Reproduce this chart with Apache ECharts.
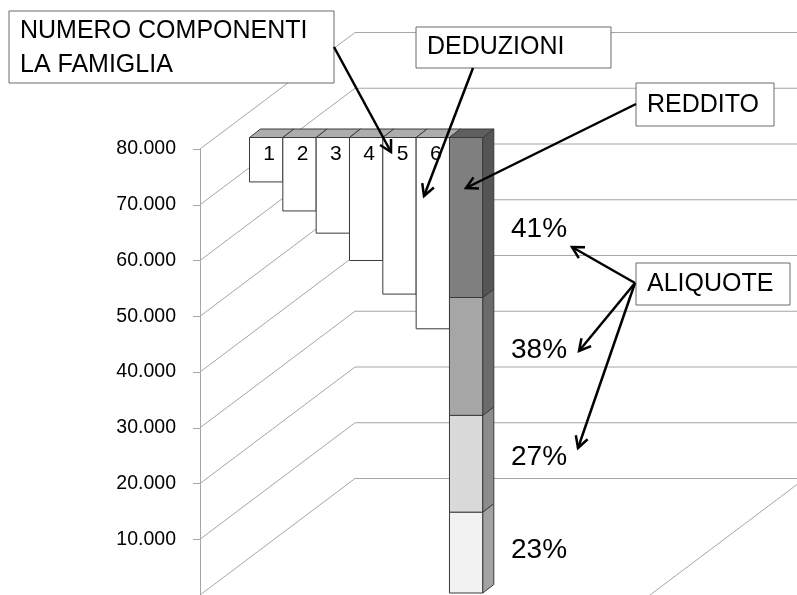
<!DOCTYPE html>
<html>
<head>
<meta charset="utf-8">
<script src="https://cdn.jsdelivr.net/npm/echarts@6/dist/echarts.min.js"></script>
<style>
  html, body { margin: 0; padding: 0; background: #fff; }
  #chart { width: 797px; height: 595px; }
</style>
</head>
<body>
<div id="chart"></div>
<script>
const FONT = "'Liberation Sans', Arial, sans-serif";

// valori
const famiglia = ['1', '2', '3', '4', '5', '6'];
const tetto = 80000;
const deduzioneFinoA = [72200, 67100, 63200, 58400, 52500, 46400];
const scaglioni = [0, 14200, 31200, 51900, 80000];
const aliquote = ['23%', '27%', '38%', '41%'];
const categorie = famiglia.concat(['Reddito']);
const tickAsse = [0, 10000, 20000, 30000, 40000, 50000, 60000, 70000, 80000];

// stile
const coloriFronte = ['#f2f2f2', '#d9d9d9', '#a6a6a6', '#7f7f7f'];
const coloriLato = ['#a3a3a3', '#8c8c8c', '#6b6b6b', '#555555'];
const coloreCima = '#5f5f5f';
const BORDO = '#3a3a3a';
const PROF = { dx: 11, dy: -8.5 };      // profondità delle barre
const PARETE = { dx: 155, dy: -116.5 }; // profondità della parete
const yAliquote = [550, 457.5, 350, 229];
const ZTOP = 100;

const formatta = (v) => String(v).replace(/\B(?=(\d{3})+(?!\d))/g, '.');

const freccia = (x1, y1, x2, y2) => {
  const a = Math.atan2(y2 - y1, x2 - x1);
  const L = 13;
  const s = 0.5;
  return {
    type: 'group',
    z: ZTOP,
    children: [
      { type: 'line', z: ZTOP + 1, shape: { x1, y1, x2, y2 }, style: { stroke: '#000', lineWidth: 2.5 } },
      {
        type: 'polyline',
        z: ZTOP + 1,
        shape: {
          points: [
            [x2 - L * Math.cos(a - s), y2 - L * Math.sin(a - s)],
            [x2, y2],
            [x2 - L * Math.cos(a + s), y2 - L * Math.sin(a + s)],
          ],
        },
        style: { stroke: '#000', lineWidth: 2.5, fill: null },
      },
    ],
  };
};

const riquadro = (x, y, w, h, testo, cy) => ({
  type: 'group',
  z: ZTOP,
  children: [
    {
      type: 'rect',
      z: ZTOP,
      shape: { x, y, width: w, height: h },
      style: { fill: '#fff', stroke: '#6b6b6b', lineWidth: 1 },
    },
    {
      type: 'text',
      z: ZTOP,
      x: x + 11,
      y: cy,
      style: { text: testo, font: '25px ' + FONT, fill: '#000', lineHeight: 33.5, verticalAlign: 'middle' },
    },
  ],
});

const renderGriglia = (params, api) => {
  const p = api.coord([0, api.value(1)]);
  const children = [
    {
      type: 'polyline',
      shape: { points: [[p[0], p[1]], [p[0] + PARETE.dx, p[1] + PARETE.dy], [820, p[1] + PARETE.dy]] },
      style: { stroke: '#a6a6a6', lineWidth: 1, fill: null },
    },
  ];
  if (api.value(1) === 0) {
    children.push({
      type: 'line',
      shape: { x1: p[0] + 605, y1: p[1] + PARETE.dy, x2: p[0] + 450, y2: p[1] },
      style: { stroke: '#a6a6a6', lineWidth: 1 },
    });
  }
  return { type: 'group', children };
};

const renderDeduzione = (params, api) => {
  const i = api.value(0);
  const top = api.coord([i, api.value(2)]);
  const bot = api.coord([i, api.value(1)]);
  const w = api.size([1, 0])[0];
  const xl = top[0] - w / 2;
  const xr = top[0] + w / 2;
  return {
    type: 'group',
    children: [
      {
        type: 'polygon',
        shape: { points: [[xl, top[1]], [xr, top[1]], [xr + PROF.dx, top[1] + PROF.dy], [xl + PROF.dx, top[1] + PROF.dy]] },
        style: { fill: '#adadad', stroke: BORDO, lineWidth: 1 },
      },
      {
        type: 'rect',
        shape: { x: xl, y: top[1], width: w, height: bot[1] - top[1] },
        style: { fill: '#fff', stroke: BORDO, lineWidth: 1 },
      },
      {
        type: 'text',
        x: top[0] + 3,
        y: top[1] + 16.5,
        style: { text: famiglia[i], font: '21px ' + FONT, fill: '#000', align: 'center', verticalAlign: 'middle' },
      },
    ],
  };
};

const renderReddito = (params, api) => {
  const k = api.value(3);
  const top = api.coord([api.value(0), api.value(2)]);
  const bot = api.coord([api.value(0), api.value(1)]);
  const w = api.size([1, 0])[0];
  const xl = top[0] - w / 2;
  const xr = top[0] + w / 2;
  const children = [
    {
      type: 'rect',
      shape: { x: xl, y: top[1], width: w, height: bot[1] - top[1] },
      style: { fill: coloriFronte[k], stroke: BORDO, lineWidth: 1 },
    },
    {
      type: 'polygon',
      shape: { points: [[xr, top[1]], [xr + PROF.dx, top[1] + PROF.dy], [xr + PROF.dx, bot[1] + PROF.dy], [xr, bot[1]]] },
      style: { fill: coloriLato[k], stroke: BORDO, lineWidth: 1 },
    },
  ];
  if (k === aliquote.length - 1) {
    children.push({
      type: 'polygon',
      shape: { points: [[xl, top[1]], [xr, top[1]], [xr + PROF.dx, top[1] + PROF.dy], [xl + PROF.dx, top[1] + PROF.dy]] },
      style: { fill: coloreCima, stroke: BORDO, lineWidth: 1 },
    });
  }
  return { type: 'group', children };
};

const chart = echarts.init(document.getElementById('chart'), null, { renderer: 'canvas' });

chart.setOption({
  animation: false,
  backgroundColor: '#fff',
  grid: [
    { left: 200, top: 149, width: 100, height: 450 },
    { left: 249.5, top: 137.5, width: 233.3, height: 455.5 },
  ],
  xAxis: [
    { type: 'value', gridIndex: 0, min: 0, max: 1, show: false },
    { type: 'category', gridIndex: 1, data: categorie, show: false },
  ],
  yAxis: [
    {
      type: 'value',
      gridIndex: 0,
      min: 0,
      max: tetto,
      interval: 10000,
      axisLine: { show: true, lineStyle: { color: '#a6a6a6', width: 1 } },
      axisTick: { show: true, length: 7, lineStyle: { color: '#a6a6a6' } },
      splitLine: { show: false },
      axisLabel: {
        showMinLabel: false,
        margin: 24,
        color: '#000',
        fontSize: 19.5,
        fontFamily: FONT,
        formatter: formatta,
      },
    },
    { type: 'value', gridIndex: 1, min: 0, max: tetto, show: false },
  ],
  series: [
    {
      name: 'griglia',
      type: 'custom',
      xAxisIndex: 0,
      yAxisIndex: 0,
      clip: false,
      silent: true,
      z: 1,
      data: tickAsse.map((v) => [0, v]),
      renderItem: renderGriglia,
    },
    {
      name: 'deduzioni',
      type: 'custom',
      xAxisIndex: 1,
      yAxisIndex: 1,
      clip: false,
      z: 5,
      data: famiglia.map((f, i) => [i, deduzioneFinoA[i], tetto]),
      renderItem: renderDeduzione,
    },
    {
      name: 'reddito',
      type: 'custom',
      xAxisIndex: 1,
      yAxisIndex: 1,
      clip: false,
      z: 6,
      data: aliquote.map((a, k) => [famiglia.length, scaglioni[k], scaglioni[k + 1], k]),
      renderItem: renderReddito,
    },
  ],
  graphic: {
    elements: [
      ...aliquote.map((a, k) => ({
        type: 'text',
        z: ZTOP,
        x: 511,
        y: yAliquote[k],
        style: { text: a, font: '28px ' + FONT, fill: '#000', verticalAlign: 'middle' },
      })),
      riquadro(9, 11, 325, 72, 'NUMERO COMPONENTI\nLA FAMIGLIA', 48),
      riquadro(416, 27, 195, 41, 'DEDUZIONI', 47),
      riquadro(636, 83, 138, 43, 'REDDITO', 105),
      riquadro(636, 263, 154, 42, 'ALIQUOTE', 284),
      freccia(334, 47, 391, 152),
      freccia(473, 68, 424, 196),
      freccia(636, 104, 466, 188),
      freccia(635, 283, 572, 247),
      freccia(635, 283, 579, 351),
      freccia(635, 283, 578, 448),
    ],
  },
});
</script>
</body>
</html>
